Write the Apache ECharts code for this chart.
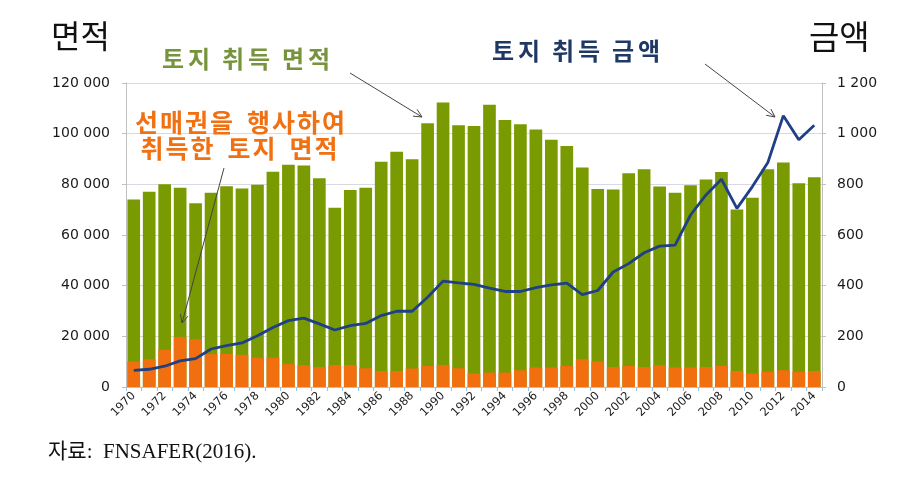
<!DOCTYPE html>
<html><head><meta charset="utf-8">
<script src="https://cdn.jsdelivr.net/npm/echarts@6/dist/echarts.min.js"></script>
<style>html,body{margin:0;padding:0;background:#fff}#c{width:912px;height:480px}</style>
</head><body><div id="c"></div>
<script>
var years = ['1970','1971','1972','1973','1974','1975','1976','1977','1978','1979',
'1980','1981','1982','1983','1984','1985','1986','1987','1988','1989',
'1990','1991','1992','1993','1994','1995','1996','1997','1998','1999',
'2000','2001','2002','2003','2004','2005','2006','2007','2008','2009',
'2010','2011','2012','2013','2014'];
var totalArea = [74000,77100,80000,78700,72500,76700,79200,78400,79800,85000,
87700,87400,82400,70800,77800,78700,88900,92900,89900,104100,
112300,103300,103000,111400,105400,103700,101600,97600,95100,86600,
78200,78000,84400,86000,79100,76700,79600,81900,84900,70100,
74700,86000,88600,80400,82800];
var preemptArea = [10000,11000,14700,19800,18900,13000,13000,12700,11600,11600,
9000,8600,7900,8700,8700,7400,6300,6300,7300,8300,
8700,7400,5300,5700,5700,6600,7700,7700,8300,11000,
10000,7900,8300,7900,8600,7700,7700,7900,8300,6300,
5300,6000,6600,6000,6300];
var amount = [66,70,82,103,112,150,163,174,202,235,
262,272,249,225,242,251,282,299,299,354,
418,411,405,390,377,377,392,403,410,365,
381,454,487,530,556,560,679,758,820,705,
791,886,1071,976,1033];
var leftTicks = {min:0, max:120000, interval:20000};
var rightTicks = {min:0, max:1200, interval:200};

function sp(v){return String(v).replace(/\B(?=(\d{3})+(?!\d))/g,' ');}

var chart = echarts.init(document.getElementById('c'), null, {renderer:'canvas'});
var axisLabelFont = {fontFamily:'DejaVu Sans', fontSize:14, color:'#1a1a1a'};
chart.setOption({
  animation:false,
  grid:{left:126, right:90, top:83, bottom:93},
  xAxis:{type:'category', data:years, boundaryGap:true,
    axisLine:{show:true, lineStyle:{color:'#BFBFBF'}},
    axisTick:{show:true, interval:0, length:4, lineStyle:{color:'#9DC3E6'}},
    axisLabel:{interval:1, rotate:45, fontFamily:'DejaVu Sans', fontSize:11.5, color:'#1a1a1a', margin:7}
  },
  yAxis:[
    {type:'value', min:leftTicks.min, max:leftTicks.max, interval:leftTicks.interval,
     axisLine:{show:true, lineStyle:{color:'#BFBFBF'}},
     axisTick:{show:true, length:4, lineStyle:{color:'#BFBFBF'}},
     splitLine:{show:true, lineStyle:{color:'#D9D9E3'}},
     axisLabel:Object.assign({margin:16, formatter:sp}, axisLabelFont)},
    {type:'value', min:rightTicks.min, max:rightTicks.max, interval:rightTicks.interval,
     axisLine:{show:true, lineStyle:{color:'#BFBFBF'}},
     axisTick:{show:true, length:4, lineStyle:{color:'#BFBFBF'}},
     splitLine:{show:false},
     axisLabel:Object.assign({margin:15, formatter:sp}, axisLabelFont)}
  ],
  series:[
    {name:'토지 취득 면적', type:'bar', data:totalArea, barCategoryGap:'18%', barGap:'-100%',
     itemStyle:{color:'#7A9A01'}, z:2},
    {name:'선매권 취득 면적', type:'bar', data:preemptArea, barCategoryGap:'18%', barGap:'-100%',
     itemStyle:{color:'#F26F10'}, z:3},
    {name:'토지 취득 금액', type:'line', yAxisIndex:1, data:amount, symbol:'none',
     lineStyle:{color:'#1F3F86', width:2.8}, z:5}
  ]
});

function arrow(x1,y1,x2,y2){
  var a=Math.atan2(y2-y1,x2-x1), L=9, s=0.45;
  return [
    {type:'line', shape:{x1:x1,y1:y1,x2:x2,y2:y2}, style:{stroke:'#444', lineWidth:1}, z:100},
    {type:'polyline', shape:{points:[[x2-L*Math.cos(a-s),y2-L*Math.sin(a-s)],[x2,y2],[x2-L*Math.cos(a+s),y2-L*Math.sin(a+s)]]},
     style:{stroke:'#444', lineWidth:1, fill:null}, z:100}
  ];
}
// spaced Korean label: each glyph placed individually (hangul advance = 1em)
function spaced(str, cx, cy, fs, color, g, G){
  var words = str.split(' '), total = 0;
  words.forEach(function(w,i){ total += w.length*fs + (w.length-1)*g + (i>0?G:0); });
  var x = cx - total/2, out = [];
  words.forEach(function(w,i){
    if(i>0) x += G;
    for(var k=0;k<w.length;k++){
      out.push({type:'text', x:x, y:cy, z:100,
        style:{text:w[k], font:'bold '+fs+'px "Noto Sans CJK KR"', fill:color, align:'left', verticalAlign:'middle'}});
      x += fs + (k<w.length-1?g:0);
    }
  });
  return out;
}
var g = [
  {type:'text', left:51, top:20, style:{text:'면적', font:'32px "Noto Sans CJK KR"', fill:'#111'}},
  {type:'text', left:809, top:20, style:{text:'금액', font:'33px "Noto Sans CJK KR"', fill:'#111'}},
  {type:'text', left:48, top:442, style:{text:'자료:  FNSAFER(2016).', font:'21px "Liberation Serif", "Noto Sans CJK KR"', fill:'#111'}}
];
g = g.concat(
  spaced('토지 취득 면적', 247, 59, 24, '#77933C', 2, 10),
  spaced('토지 취득 금액', 577, 51, 24, '#1F3864', 2, 10),
  spaced('선매권을 행사하여', 241, 122, 25, '#F07012', 0, 12),
  spaced('취득한 토지 면적', 240, 148, 25, '#F07012', 0, 12),
  arrow(350,73,422,117), arrow(705,64,775,117), arrow(224,168,182,323));
chart.setOption({graphic:g});
</script></body></html>
